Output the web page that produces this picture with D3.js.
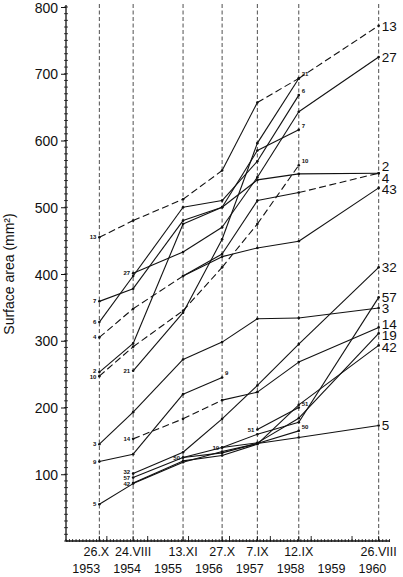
<!DOCTYPE html>
<html><head><meta charset="utf-8">
<script src="https://cdn.jsdelivr.net/npm/d3@7"></script>
<style>body{margin:0;background:#fff}text{font-family:"Liberation Sans",Arial,sans-serif;fill:#111}</style>
</head><body>
<svg id="c" width="403" height="577"></svg>
<script>
// ---- data ----
const dates = ["1953-10-26","1954-08-24","1955-11-13","1956-10-27","1957-09-07","1958-09-12","1960-08-26"];
const dateLabels = ["26.X","24.VIII","13.XI","27.X","7.IX","12.IX","26.VIII"];
const yearLabels = [1953,1954,1955,1956,1957,1958,1959,1960];
const yTicks = [100,200,300,400,500,600,700,800];
// values at each observation date (null = not measured)
const p13 = [455,480,512,555,657,693,772];
const p27 = [null,401,433,470,545,643,725];
const p21 = [null,255,342,452,596,693,null];
const p6  = [328,397,500,510,569,668,null];
const p7  = [359,378,480,500,585,616,null];
const p2  = [253,296,475,500,541,550,551];
const p4  = [305,348,397,430,510,522,551];
const p10 = [247,291,345,410,475,563,null];
const p43 = [null,null,397,426,439,449,529];
const p3  = [145,193,272,298,333,334,349];
const p9  = [119,130,220,245,null,null,null];
const p5  = [55,86,118,134,146,155,173];
const p14 = [null,153,183,211,223,268,320];
const p32 = [null,101,133,183,233,295,410];
const p57 = [null,95,125,140,160,178,365];
const p42 = [null,87,120,128,145,204,293];
const p19 = [null,null,null,140,147,184,311];
const p50 = [null,null,125,132,146,165,null];
const p51 = [null,null,null,null,167,200,null];

const series = [
  {id:"13",v:p13},{id:"27",v:p27},{id:"21",v:p21},{id:"6",v:p6},{id:"7",v:p7},
  {id:"2",v:p2},{id:"4",v:p4},{id:"10",v:p10},{id:"43",v:p43},{id:"3",v:p3},
  {id:"9",v:p9},{id:"5",v:p5},{id:"14",v:p14},{id:"32",v:p32},{id:"57",v:p57},
  {id:"42",v:p42},{id:"19",v:p19},{id:"50",v:p50},{id:"51",v:p51}
];
// style config (which segments are dashed, by segment start index)
const dashedSeg = {"13":[0,1,2,4,5],"4":[0,1,5],"10":[0,1,2,3,4],"14":[0,1,2]};
const hiddenStart = ["43"];

// ---- drawing ----
const svg = d3.select("#c");
const parse = d3.timeParse("%Y-%m-%d");
const D = dates.map(parse);
const x = d3.scaleTime().domain([new Date(1953,0,1), new Date(1961,0,1)]).range([66,393]);
const y = d3.scaleLinear().domain([0,800]).range([541,7]);
const x0 = x.range()[0], x1 = 390, y0 = y(0);

// vertical dashed date guides
svg.append("g").selectAll("line").data(D).join("line")
  .attr("x1",d=>x(d)).attr("x2",d=>x(d)).attr("y1",y0).attr("y2",y(805))
  .attr("stroke","#222").attr("stroke-width",0.8).attr("stroke-dasharray","4,2.5");

// Y axis
const gy = svg.append("g").attr("transform",`translate(${x0},0)`);
gy.call(d3.axisLeft(y).tickValues(yTicks).tickSize(5).tickPadding(3).tickFormat(d3.format("d")));
gy.select(".domain").remove();
gy.selectAll("text").style("font-size","14px").attr("dy","0.36em");
gy.selectAll("line").attr("stroke","#111").attr("stroke-width",1);
const minor = d3.range(0,801,10);
svg.append("g").selectAll("line").data(minor).join("line")
  .attr("x1",x0-2).attr("x2",x0+2).attr("y1",d=>y(d)).attr("y2",d=>y(d))
  .attr("stroke","#111").attr("stroke-width",0.8);
svg.append("line").attr("x1",x0).attr("x2",x0).attr("y1",y0).attr("y2",y(803))
  .attr("stroke","#111").attr("stroke-width",1.3);

// X axis
svg.append("line").attr("x1",x0).attr("x2",x1).attr("y1",y0).attr("y2",y0)
  .attr("stroke","#111").attr("stroke-width",1.3);
const months = d3.timeMonth.range(new Date(1953,0,1), new Date(1961,0,1));
svg.append("g").selectAll("line").data(months).join("line")
  .attr("x1",d=>x(d)).attr("x2",d=>x(d)).attr("y1",y0+1).attr("y2",y0-2)
  .attr("stroke","#111").attr("stroke-width",0.8);
const years = d3.timeYear.range(new Date(1954,0,1), new Date(1961,0,1));
svg.append("g").selectAll("line").data(years).join("line")
  .attr("x1",d=>x(d)).attr("x2",d=>x(d)).attr("y1",y0).attr("y2",y0-5)
  .attr("stroke","#111").attr("stroke-width",0.9);
svg.append("g").selectAll("line").data(D).join("line")
  .attr("x1",d=>x(d)).attr("x2",d=>x(d)).attr("y1",y0).attr("y2",y0-5)
  .attr("stroke","#111").attr("stroke-width",0.9);

svg.append("g").selectAll("text").data(D).join("text")
  .attr("x",(d,i)=>x(d)-(i===0?3:0)).attr("y",y0+15).attr("text-anchor","middle")
  .style("font-size","12.5px").text((d,i)=>dateLabels[i]);
svg.append("g").selectAll("text").data(yearLabels).join("text")
  .attr("x",d=>x(new Date(d,6,1))).attr("y",y0+32).attr("text-anchor","middle")
  .style("font-size","12.5px").text(d=>d);

svg.append("text").attr("transform",`translate(14,${y(400)}) rotate(-90)`)
  .attr("text-anchor","middle").style("font-size","14px")
  .text("Surface area (mm²)");

// series lines, drawn per segment
const small = [];
series.forEach(s=>{
  const pts = s.v.map((v,i)=>({i,v})).filter(p=>p.v!=null);
  for(let k=0;k<pts.length-1;k++){
    const a=pts[k], b=pts[k+1];
    const dashed = (dashedSeg[s.id]||[]).includes(a.i);
    svg.append("line")
      .attr("x1",x(D[a.i])).attr("y1",y(a.v)).attr("x2",x(D[b.i])).attr("y2",y(b.v))
      .attr("stroke","#111").attr("stroke-width",1.1)
      .attr("stroke-dasharray",dashed?"7,3.5":null);
  }
  svg.append("g").selectAll("circle").data(pts).join("circle")
    .attr("cx",p=>x(D[p.i])).attr("cy",p=>y(p.v)).attr("r",1.3).attr("fill","#111");
  const f=pts[0], l=pts[pts.length-1];
  if(!hiddenStart.includes(s.id))
    small.push({id:s.id, col:f.i, side:"L", x:x(D[f.i])-3, y:y(f.v)+2});
  if(l.i < D.length-1)
    small.push({id:s.id, col:l.i, side:"R", x:x(D[l.i])+3, y:y(l.v)-2});
});
// relax small labels within the same column/side
d3.groups(small, d=>d.col+d.side).forEach(([k,arr])=>{
  arr.sort((a,b)=>a.y-b.y);
  for(let it=0;it<30;it++) for(let j=1;j<arr.length;j++){
    const g=arr[j].y-arr[j-1].y; if(g<6){const m=(6-g)/2; arr[j].y+=m; arr[j-1].y-=m;}
  }
});
svg.append("g").selectAll("text").data(small).join("text")
  .attr("x",d=>d.x).attr("y",d=>d.y).attr("text-anchor",d=>d.side==="L"?"end":"start")
  .style("font-size","6px").style("font-weight","bold").text(d=>d.id);

// right-end labels with simple collision relaxation
const ends = series.filter(s=>s.v[D.length-1]!=null)
  .map(s=>({id:s.id, y:y(s.v[D.length-1])})).sort((a,b)=>a.y-b.y);
ends.forEach(e=>e.ly=e.y);
for(let it=0;it<50;it++){
  for(let k=1;k<ends.length;k++){
    const gap = ends[k].ly-ends[k-1].ly;
    if(gap<11.5){const m=(11.5-gap)/2; ends[k].ly+=m; ends[k-1].ly-=m;}
  }
}
svg.append("g").selectAll("text").data(ends).join("text")
  .attr("x",x(D[D.length-1])+3).attr("y",e=>e.ly).attr("dy","0.36em")
  .style("font-size","13.5px").text(e=>e.id);
</script>
</body></html>
